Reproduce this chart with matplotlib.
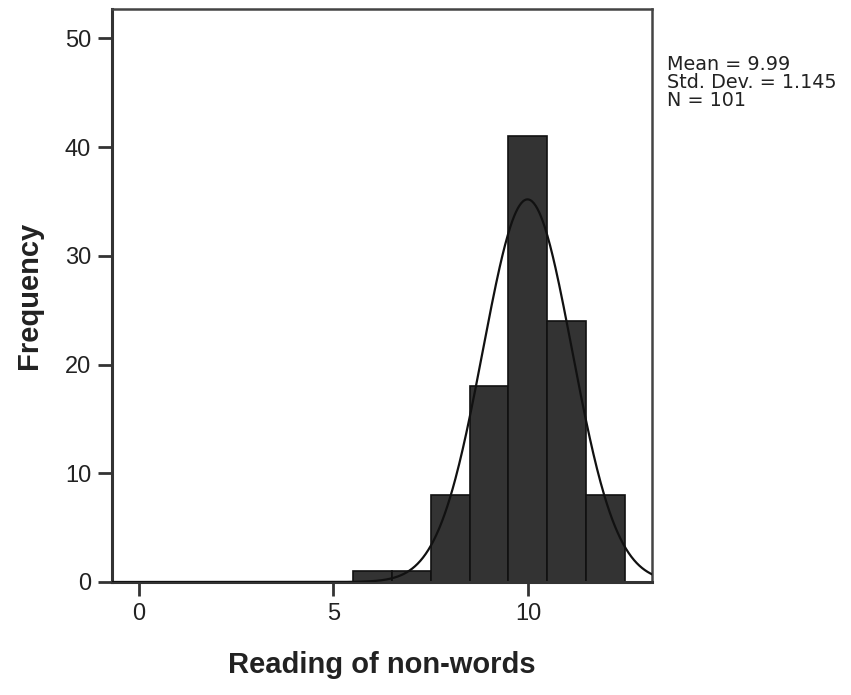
import numpy as np
import matplotlib
matplotlib.use("Agg")
import matplotlib.pyplot as plt

plt.rcParams['font.family'] = ['Liberation Sans', 'DejaVu Sans']

# Data
bin_centers = [6, 7, 8, 9, 10, 11, 12]
counts = [1, 1, 8, 18, 41, 24, 8]
mean = 9.99
std = 1.145
n = 101
bin_width = 1.0
x_ticks = [0, 5, 10]
y_ticks = [0, 10, 20, 30, 40, 50]
stats_lines = ['Mean = 9.99', 'Std. Dev. = 1.145', 'N = 101']

fig = plt.figure(figsize=(8.51, 6.95), dpi=100)
ax = fig.add_axes([112/851, 1-582/695, (652-112)/851, (582-9)/695])

ax.bar(bin_centers, counts, width=bin_width, color='#333333',
       edgecolor='#111111', linewidth=1.2, zorder=2)

xlim = (-0.69, 13.19)
xs = np.linspace(xlim[0], xlim[1], 600)
ys = n * bin_width / (std * np.sqrt(2 * np.pi)) * np.exp(-0.5 * ((xs - mean) / std) ** 2)
ax.plot(xs, ys, color='#111111', linewidth=1.6, zorder=3)

ax.set_xlim(*xlim)
ax.set_ylim(0, 52.7)
ax.set_xticks(x_ticks)
ax.set_yticks(y_ticks)
ax.tick_params(axis='both', direction='out', length=10, width=2,
               color='#333333', labelsize=17, labelcolor='#222222', pad=5)

for s in ax.spines.values():
    s.set_linewidth(1.8)
    s.set_color('#444444')
ax.spines['left'].set_linewidth(2.2)
ax.spines['bottom'].set_linewidth(2.2)
ax.spines['left'].set_color('#333333')
ax.spines['bottom'].set_color('#333333')

ax.set_xlabel('Reading of non-words', fontsize=21, fontweight='bold',
              color='#222222', labelpad=19)
ax.set_ylabel('Frequency', fontsize=21, fontweight='bold',
              color='#222222', labelpad=16)

for i, line in enumerate(stats_lines):
    fig.text(667/851, 1-(70 + 18*i)/695, line, fontsize=13.8,
             family='DejaVu Sans', va='baseline', ha='left', color='#222222')

fig.savefig('out.png', dpi=100)
